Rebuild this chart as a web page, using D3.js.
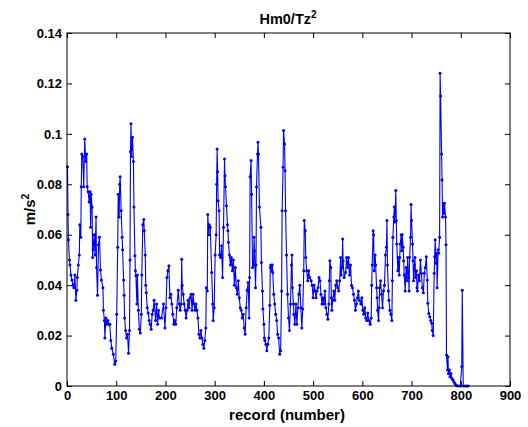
<!DOCTYPE html>
<html><head><meta charset="utf-8">
<script src="https://cdn.jsdelivr.net/npm/d3@7"></script>
<style>
body{margin:0;background:#fff;}
svg{display:block;font-family:"Liberation Sans",Arial,Helvetica,sans-serif;}
</style></head>
<body><svg id="c" width="528" height="427"></svg>
<script>
const records = [1,2,3,5,6,8,10,12,14,16,18,20,21,23,25,26,28,29,30,32,34,36,38,40,41,43,45,47,48,49,51,52,53,55,57,59,60,62,64,66,68,70,73,74,76,77,79,81,83,85,
87,89,91,94,97,99,101,103,104,106,107,108,110,112,113,115,116,117,119,121,123,125,127,128,129,130,131,133,135,136,138,139,140,142,143,145,147,149,151,152,154,156,157,159,160,161,163,165,167,169,171,173,175,177,180,182,184,186,188,
192,196,199,201,203,205,207,209,211,213,215,217,219,221,223,226,228,230,232,233,234,236,238,240,242,244,246,248,250,252,254,256,258,260,262,264,266,268,270,272,274,276,278,280,282,283,285,286,288,289,291,
294,296,297,299,301,303,304,305,306,307,309,310,312,314,316,318,320,321,322,324,326,327,328,330,332,334,336,338,340,342,344,346,348,350,352,354,356,358,360,362,364,366,368,370,371,372,374,375,377,379,380,381,383,384,385,387,388,389,391,
394,395,397,398,400,401,402,404,406,408,410,412,413,414,416,417,418,420,422,424,426,428,430,432,434,436,437,439,440,442,443,444,446,448,450,452,454,456,457,458,460,461,463,465,467,469,471,473,475,477,479,481,482,484,485,487,489,491,493,
496,498,500,502,504,506,508,510,512,514,516,518,520,522,524,526,528,530,532,533,534,536,537,538,540,542,544,546,548,550,552,554,556,557,559,560,561,563,566,568,570,572,574,576,578,580,582,584,586,588,590,592,594,
597,599,601,603,605,607,609,611,613,616,618,619,620,622,623,624,626,627,629,630,631,633,634,635,637,639,641,643,645,647,649,650,651,653,654,656,658,660,661,662,664,665,666,668,669,670,672,673,675,676,677,679,680,681,683,684,685,687,688,689,691,692,694,695,696,698,699,700,702,703,704,706,707,708,710,711,712,714,716,
718,720,722,724,726,728,730,732,733,735,737,739,741,742,744,746,747,748,750,751,752,754,755,757,758,759,761,762,763,765,766,767,769,770,771,773,774,775,777,778,780,782,784,786,788,790,792,795,799,802,803,805,809,812,815];
const values = [0.087,0.068,0.058,0.050,0.048,0.044,0.042,0.040,0.039,0.044,0.034,0.038,0.043,0.048,0.052,0.064,0.059,0.079,0.092,0.091,0.079,0.098,0.089,0.092,0.079,0.077,0.073,0.077,0.063,0.076,0.071,0.051,0.054,0.060,0.052,0.067,0.047,0.036,0.056,0.059,0.046,0.042,0.039,0.030,0.026,0.019,0.027,0.0245,0.026,0.0245,
0.0245,0.018,0.015,0.0126,0.0086,0.0099,0.0285,0.055,0.076,0.067,0.080,0.083,0.0695,0.059,0.054,0.042,0.036,0.027,0.022,0.019,0.0205,0.013,0.022,0.050,0.093,0.104,0.091,0.0987,0.089,0.071,0.0517,0.0457,0.0437,0.0325,0.044,0.030,0.0225,0.021,0.0285,0.044,0.064,0.066,0.0616,0.052,0.040,0.037,0.031,0.029,0.026,0.0245,0.0225,0.0285,0.030,0.034,0.026,0.0325,0.0245,0.030,0.027,
0.027,0.0325,0.023,0.031,0.043,0.0457,0.0477,0.035,0.0364,0.0325,0.0285,0.0245,0.026,0.0245,0.031,0.038,0.0325,0.030,0.0325,0.0503,0.040,0.0364,0.0325,0.030,0.027,0.030,0.034,0.031,0.035,0.0364,0.030,0.0364,0.0325,0.030,0.0325,0.030,0.027,0.0205,0.019,0.022,0.019,0.0166,0.015,0.018,0.023,0.039,0.0377,0.068,0.060,0.064,0.063,
0.045,0.0325,0.026,0.031,0.052,0.060,0.080,0.094,0.085,0.0735,0.0695,0.052,0.051,0.0556,0.043,0.063,0.090,0.0834,0.079,0.0715,0.064,0.0616,0.057,0.052,0.048,0.051,0.0457,0.050,0.040,0.047,0.039,0.0364,0.0417,0.035,0.031,0.030,0.027,0.0285,0.023,0.0205,0.031,0.038,0.041,0.027,0.043,0.083,0.0894,0.076,0.047,0.048,0.059,0.0536,0.039,0.048,0.079,0.092,0.0967,0.092,0.071,
0.063,0.049,0.0377,0.0305,0.0245,0.019,0.018,0.0166,0.014,0.0166,0.019,0.032,0.047,0.048,0.0457,0.048,0.045,0.0364,0.0325,0.0285,0.026,0.0205,0.019,0.0126,0.014,0.0377,0.0695,0.0868,0.1013,0.096,0.0854,0.0695,0.052,0.0364,0.027,0.022,0.0325,0.048,0.052,0.039,0.0325,0.0285,0.0245,0.0325,0.0245,0.031,0.0364,0.040,0.031,0.023,0.0305,0.0457,0.0656,0.0616,0.051,0.0457,0.0417,0.0457,0.043,
0.0417,0.040,0.035,0.040,0.0377,0.035,0.0377,0.039,0.043,0.0417,0.0364,0.0325,0.035,0.0325,0.0377,0.031,0.0285,0.0265,0.0325,0.0417,0.0497,0.047,0.035,0.030,0.034,0.0377,0.034,0.040,0.0417,0.039,0.0377,0.0417,0.051,0.044,0.047,0.0583,0.0497,0.043,0.045,0.051,0.047,0.051,0.044,0.048,0.040,0.039,0.0364,0.034,0.030,0.0325,0.035,0.0377,0.034,
0.0325,0.035,0.030,0.0285,0.031,0.027,0.026,0.029,0.026,0.0245,0.027,0.040,0.048,0.0616,0.060,0.0457,0.052,0.048,0.039,0.035,0.030,0.026,0.031,0.039,0.0417,0.0364,0.031,0.0377,0.040,0.052,0.055,0.0656,0.048,0.0377,0.034,0.030,0.0285,0.026,0.0417,0.059,0.067,0.071,0.065,0.0775,0.0656,0.0563,0.0457,0.051,0.044,0.051,0.0563,0.060,0.0536,0.060,0.055,0.0497,0.044,0.0377,0.043,0.047,0.0417,0.051,0.043,0.0377,0.051,0.059,0.072,0.0656,0.0563,0.0497,0.0417,0.048,0.051,0.043,0.0457,0.039,0.0377,0.044,0.0417,
0.050,0.0447,0.039,0.037,0.0447,0.047,0.0513,0.042,0.0328,0.0288,0.0275,0.026,0.0249,0.022,0.020,0.0447,0.0513,0.058,0.0487,0.0526,0.039,0.054,0.0526,0.059,0.124,0.115,0.092,0.0817,0.067,0.0725,0.0685,0.0725,0.067,0.056,0.0123,0.0063,0.0116,0.005,0.0063,0.0037,0.005,0.003,0.0024,0.0017,0.001,0.0004,0.0001,0,0,0.0077,0.038,0,0,0,0];
const xTicks = [0,100,200,300,400,500,600,700,800,900];
const yTicks = [0,0.02,0.04,0.06,0.08,0.1,0.12,0.14];
const titleText = "Hm0/Tz";
const xLabel = "record (number)";
const yLabel = "m/s";

const svg = d3.select("#c");
const L = 67, T = 33, R = 510, B = 386;
const x = d3.scaleLinear().domain([0,900]).range([L,R]);
const y = d3.scaleLinear().domain([0,0.14]).range([B,T]);
const data = records.map((r,i)=>[r, values[i]]);

// data
const g = svg.append("g");
g.append("path").datum(data)
 .attr("fill","none").attr("stroke","#0000ff").attr("stroke-width",1.1)
 .attr("d", d3.line().x(d=>x(d[0])).y(d=>y(d[1])));
g.selectAll("circle").data(data).enter().append("circle")
 .attr("cx",d=>x(d[0])).attr("cy",d=>y(d[1])).attr("r",1.5).attr("fill","#0000ff");

// axes (MATLAB box, inward ticks)
const tl = 5;
const fs = 13;
const axB = d3.axisBottom(x).tickValues(xTicks).tickSize(-tl).tickPadding(5).tickFormat(d3.format("d"));
const axT = d3.axisTop(x).tickValues(xTicks).tickSize(-tl).tickFormat("");
const axL = d3.axisLeft(y).tickValues(yTicks).tickSize(-tl).tickPadding(5).tickFormat(d=>d===0?"0":String(+d.toFixed(2)));
const axR = d3.axisRight(y).tickValues(yTicks).tickSize(-tl).tickFormat("");
[[axB,`translate(0,${B})`],[axT,`translate(0,${T})`],[axL,`translate(${L},0)`],[axR,`translate(${R},0)`]].forEach(([a,t])=>{
  const s = svg.append("g").attr("transform",t).call(a);
  s.select(".domain").remove();
  s.selectAll("line").attr("stroke","#000").attr("stroke-width",1);
  s.selectAll("text").attr("font-size",fs).attr("font-weight","bold").attr("fill","#000").attr("font-family","Liberation Sans, Arial, sans-serif");
});
svg.append("rect").attr("x",L).attr("y",T).attr("width",R-L).attr("height",B-T)
 .attr("fill","none").attr("stroke","#000").attr("stroke-width",1);

// title
const t = svg.append("text").attr("x",288).attr("y",24).attr("text-anchor","middle")
 .attr("font-size",14.5).attr("font-weight","bold");
t.append("tspan").text(titleText);
t.append("tspan").attr("dy",-6).attr("font-size",10).text("2");

svg.append("text").attr("x",287).attr("y",420).attr("text-anchor","middle")
 .attr("font-size",15).attr("font-weight","bold").text(xLabel);

const yl = svg.append("text").attr("transform",`translate(35,${(T+B)/2}) rotate(-90)`).attr("text-anchor","middle")
 .attr("font-size",15).attr("font-weight","bold");
yl.append("tspan").text(yLabel);
yl.append("tspan").attr("dy",-6).attr("font-size",10.5).text("2");
</script></body></html>
